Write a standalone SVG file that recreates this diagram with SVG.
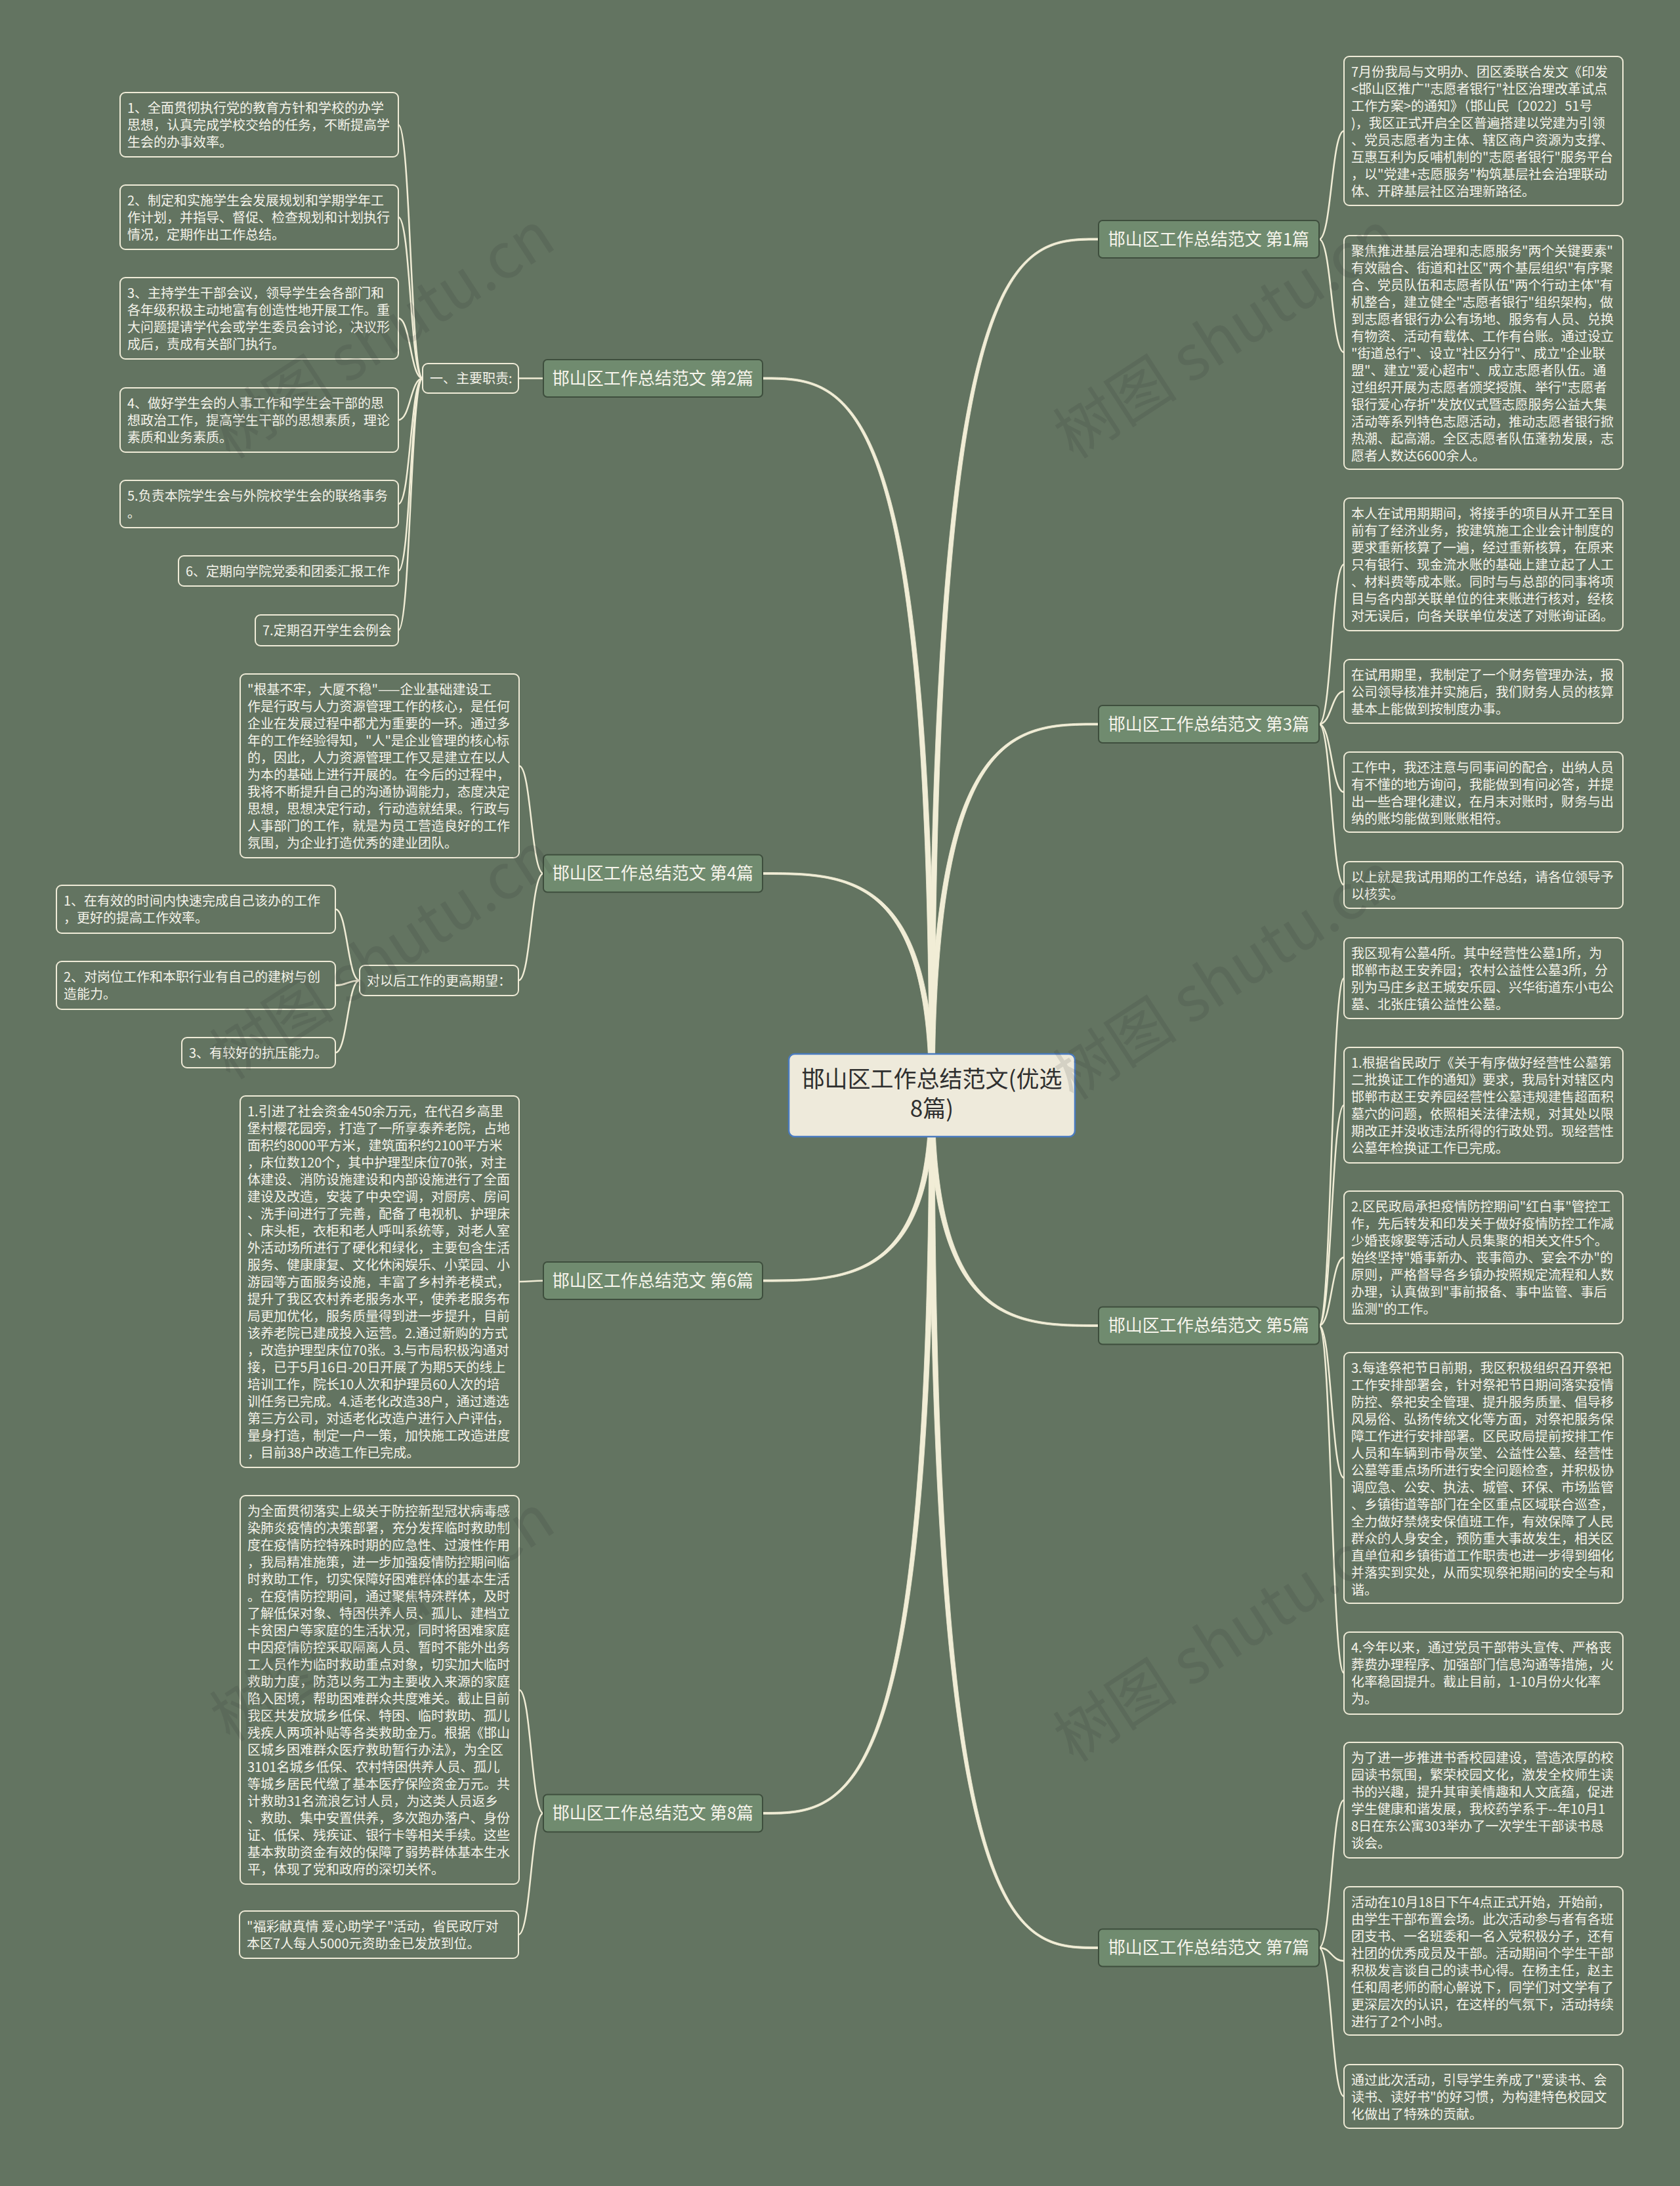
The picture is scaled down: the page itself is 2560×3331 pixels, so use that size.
<svg xmlns="http://www.w3.org/2000/svg" width="2560" height="3331" viewBox="0 0 2560 3331">
<style>
.bg{fill:#637461}
.box{fill:#637461;stroke:#EFEBD7;stroke-width:2}
.t{font-family:"Noto Sans CJK SC","Noto Sans",sans-serif;font-size:20px;fill:#F5F3EA}
.br rect{fill:#708B6F;stroke:#3E4E3D;stroke-width:2}
.br text{font-family:"Noto Sans CJK SC","Noto Sans",sans-serif;font-size:26px;fill:#F7F5EC;text-anchor:middle}
.sub{fill:none;stroke:#F1EDD6;stroke-width:2.5}
.main{fill:#F1EDD6;stroke:#F1EDD6;stroke-width:0.8}
.wm{font-family:"Noto Sans CJK SC","DejaVu Sans",sans-serif;font-size:95px;fill:#2E2E2E;opacity:0.13}
</style>
<rect class="bg" x="0" y="0" width="2560" height="3331"/>

<g id="connectors">
<path class="main" d="M1416,1669 C1416,363 1547,363 1674,363 L1674,366 C1547,366 1424,366 1424,1669 Z"/>
<path class="main" d="M1416,1669 C1416,1102 1547,1102 1674,1102 L1674,1105 C1547,1105 1424,1105 1424,1669 Z"/>
<path class="main" d="M1416,1669 C1416,2021.5 1547,2021.5 1674,2021.5 L1674,2018.5 C1547,2018.5 1424,2018.5 1424,1669 Z"/>
<path class="main" d="M1416,1669 C1416,2969.5 1547,2969.5 1674,2969.5 L1674,2966.5 C1547,2966.5 1424,2966.5 1424,1669 Z"/>
<path class="main" d="M1416,1669 C1416,578 1291,578 1162,578 L1162,575 C1291,575 1424,575 1424,1669 Z"/>
<path class="main" d="M1416,1669 C1416,1332.5 1291,1332.5 1162,1332.5 L1162,1329.5 C1291,1329.5 1424,1329.5 1424,1669 Z"/>
<path class="main" d="M1416,1669 C1416,1950 1291,1950 1162,1950 L1162,1953 C1291,1953 1424,1953 1424,1669 Z"/>
<path class="main" d="M1416,1669 C1416,2761.5 1291,2761.5 1162,2761.5 L1162,2764.5 C1291,2764.5 1424,2764.5 1424,1669 Z"/>

<path class="sub" d="M2010,364.5 C2029,364.5 2029,199.5 2048,199.5"/>
<path class="sub" d="M2010,364.5 C2029,364.5 2029,537 2048,537"/>
<path class="sub" d="M2010,1103.5 C2029,1103.5 2029,860 2048,860"/>
<path class="sub" d="M2010,1103.5 C2029,1103.5 2029,1053.5 2048,1053.5"/>
<path class="sub" d="M2010,1103.5 C2029,1103.5 2029,1207 2048,1207"/>
<path class="sub" d="M2010,1103.5 C2029,1103.5 2029,1348.5 2048,1348.5"/>
<path class="sub" d="M2010,2020 C2029,2020 2029,1490.5 2048,1490.5"/>
<path class="sub" d="M2010,2020 C2029,2020 2029,1684 2048,1684"/>
<path class="sub" d="M2010,2020 C2029,2020 2029,1916 2048,1916"/>
<path class="sub" d="M2010,2020 C2029,2020 2029,2252 2048,2252"/>
<path class="sub" d="M2010,2020 C2029,2020 2029,2549.5 2048,2549.5"/>
<path class="sub" d="M2010,2968 C2029,2968 2029,2743 2048,2743"/>
<path class="sub" d="M2010,2968 C2029,2968 2029,2988 2048,2988"/>
<path class="sub" d="M2010,2968 C2029,2968 2029,3194.5 2048,3194.5"/>

<path class="sub" d="M828,576.5 L790,576.5"/>
<path class="sub" d="M644,576.5 C625.5,576.5 625.5,190 607,190"/>
<path class="sub" d="M644,576.5 C625.5,576.5 625.5,331 607,331"/>
<path class="sub" d="M644,576.5 C625.5,576.5 625.5,485 607,485"/>
<path class="sub" d="M644,576.5 C625.5,576.5 625.5,640 607,640"/>
<path class="sub" d="M644,576.5 C625.5,576.5 625.5,768 607,768"/>
<path class="sub" d="M644,576.5 C625.5,576.5 625.5,870 607,870"/>
<path class="sub" d="M644,576.5 C625.5,576.5 625.5,960.5 607,960.5"/>

<path class="sub" d="M828,1331 C809.5,1331 809.5,1167 791,1167"/>
<path class="sub" d="M828,1331 C809,1331 809,1494 790,1494"/>
<path class="sub" d="M548,1494 C529.5,1494 529.5,1385.5 511,1385.5"/>
<path class="sub" d="M548,1494 C529.5,1494 529.5,1501.5 511,1501.5"/>
<path class="sub" d="M548,1494 C529.5,1494 529.5,1604 511,1604"/>

<path class="sub" d="M828,1951.5 C809.5,1951.5 809.5,1953 791,1953"/>
<path class="sub" d="M828,2763 C809.5,2763 809.5,2575 791,2575"/>
<path class="sub" d="M828,2763 C809,2763 809,2948 790,2948"/>
</g>

<g id="center">
<rect x="1202" y="1606" width="436" height="126" rx="9" fill="#EEEADB" stroke="#4A7BC0" stroke-width="2.5"/>
<text x="1420" y="1657" text-anchor="middle" font-family="'Noto Sans CJK SC','Noto Sans',sans-serif" font-size="35" fill="#2F2F2F"><tspan x="1420" dy="0">邯山区工作总结范文(优选</tspan><tspan x="1420" dy="45">8篇)</tspan></text>
</g>

<g id="b1" class="br"><rect x="1674" y="336" width="336" height="57" rx="6"/><text x="1842" y="373.5">邯山区工作总结范文 第1篇</text></g>
<g id="b3" class="br"><rect x="1674" y="1075" width="336" height="57" rx="6"/><text x="1842" y="1112.5">邯山区工作总结范文 第3篇</text></g>
<g id="b5" class="br"><rect x="1674" y="1991.5" width="336" height="57" rx="6"/><text x="1842" y="2029">邯山区工作总结范文 第5篇</text></g>
<g id="b7" class="br"><rect x="1674" y="2939.5" width="336" height="57" rx="6"/><text x="1842" y="2977">邯山区工作总结范文 第7篇</text></g>
<g id="b2" class="br"><rect x="828" y="548" width="334" height="57" rx="6"/><text x="995" y="585.5">邯山区工作总结范文 第2篇</text></g>
<g id="b4" class="br"><rect x="828" y="1302.5" width="334" height="57" rx="6"/><text x="995" y="1340">邯山区工作总结范文 第4篇</text></g>
<g id="b6" class="br"><rect x="828" y="1923" width="334" height="57" rx="6"/><text x="995" y="1960.5">邯山区工作总结范文 第6篇</text></g>
<g id="b8" class="br"><rect x="828" y="2734.5" width="334" height="57" rx="6"/><text x="995" y="2772">邯山区工作总结范文 第8篇</text></g>

<g id="r1a"><rect class="box" x="2048" y="86" width="425" height="227" rx="8"/><text class="t" x="2059" y="116.5"><tspan x="2059" dy="0">7月份我局与文明办、团区委联合发文《印发</tspan><tspan x="2059" dy="26">&lt;邯山区推广"志愿者银行"社区治理改革试点</tspan><tspan x="2059" dy="26">工作方案&gt;的通知》（邯山民〔2022〕51号</tspan><tspan x="2059" dy="26">)，我区正式开启全区普遍搭建以党建为引领</tspan><tspan x="2059" dy="26">、党员志愿者为主体、辖区商户资源为支撑、</tspan><tspan x="2059" dy="26">互惠互利为反哺机制的"志愿者银行"服务平台</tspan><tspan x="2059" dy="26">，以"党建+志愿服务"构筑基层社会治理联动</tspan><tspan x="2059" dy="26">体、开辟基层社区治理新路径。</tspan></text></g>
<g id="r1b"><rect class="box" x="2048" y="359" width="425" height="356" rx="8"/><text class="t" x="2059" y="389.5"><tspan x="2059" dy="0">聚焦推进基层治理和志愿服务"两个关键要素"</tspan><tspan x="2059" dy="26">有效融合、街道和社区"两个基层组织"有序聚</tspan><tspan x="2059" dy="26">合、党员队伍和志愿者队伍"两个行动主体"有</tspan><tspan x="2059" dy="26">机整合，建立健全"志愿者银行"组织架构，做</tspan><tspan x="2059" dy="26">到志愿者银行办公有场地、服务有人员、兑换</tspan><tspan x="2059" dy="26">有物资、活动有载体、工作有台账。通过设立</tspan><tspan x="2059" dy="26">"街道总行"、设立"社区分行"、成立"企业联</tspan><tspan x="2059" dy="26">盟"、建立"爱心超市"、成立志愿者队伍。通</tspan><tspan x="2059" dy="26">过组织开展为志愿者颁奖授旗、举行"志愿者</tspan><tspan x="2059" dy="26">银行爱心存折"发放仪式暨志愿服务公益大集</tspan><tspan x="2059" dy="26">活动等系列特色志愿活动，推动志愿者银行掀</tspan><tspan x="2059" dy="26">热潮、起高潮。全区志愿者队伍蓬勃发展，志</tspan><tspan x="2059" dy="26">愿者人数达6600余人。</tspan></text></g>

<g id="r3a"><rect class="box" x="2048" y="759" width="425" height="202" rx="8"/><text class="t" x="2059" y="789.5"><tspan x="2059" dy="0">本人在试用期期间，将接手的项目从开工至目</tspan><tspan x="2059" dy="26">前有了经济业务，按建筑施工企业会计制度的</tspan><tspan x="2059" dy="26">要求重新核算了一遍，经过重新核算，在原来</tspan><tspan x="2059" dy="26">只有银行、现金流水账的基础上建立起了人工</tspan><tspan x="2059" dy="26">、材料费等成本账。同时与与总部的同事将项</tspan><tspan x="2059" dy="26">目与各内部关联单位的往来账进行核对，经核</tspan><tspan x="2059" dy="26">对无误后，向各关联单位发送了对账询证函。</tspan></text></g>
<g id="r3b"><rect class="box" x="2048" y="1005" width="425" height="97" rx="8"/><text class="t" x="2059" y="1035.5"><tspan x="2059" dy="0">在试用期里，我制定了一个财务管理办法，报</tspan><tspan x="2059" dy="26">公司领导核准并实施后，我们财务人员的核算</tspan><tspan x="2059" dy="26">基本上能做到按制度办事。</tspan></text></g>
<g id="r3c"><rect class="box" x="2048" y="1146" width="425" height="122" rx="8"/><text class="t" x="2059" y="1176.5"><tspan x="2059" dy="0">工作中，我还注意与同事间的配合，出纳人员</tspan><tspan x="2059" dy="26">有不懂的地方询问，我能做到有问必答，并提</tspan><tspan x="2059" dy="26">出一些合理化建议，在月末对账时，财务与出</tspan><tspan x="2059" dy="26">纳的账均能做到账账相符。</tspan></text></g>
<g id="r3d"><rect class="box" x="2048" y="1313" width="425" height="71" rx="8"/><text class="t" x="2059" y="1343.5"><tspan x="2059" dy="0">以上就是我试用期的工作总结，请各位领导予</tspan><tspan x="2059" dy="26">以核实。</tspan></text></g>

<g id="r5a"><rect class="box" x="2048" y="1429" width="425" height="123" rx="8"/><text class="t" x="2059" y="1459.5"><tspan x="2059" dy="0">我区现有公墓4所。其中经营性公墓1所，为</tspan><tspan x="2059" dy="26">邯郸市赵王安养园；农村公益性公墓3所，分</tspan><tspan x="2059" dy="26">别为马庄乡赵王城安乐园、兴华街道东小屯公</tspan><tspan x="2059" dy="26">墓、北张庄镇公益性公墓。</tspan></text></g>
<g id="r5b"><rect class="box" x="2048" y="1596" width="425" height="176" rx="8"/><text class="t" x="2059" y="1626.5"><tspan x="2059" dy="0">1.根据省民政厅《关于有序做好经营性公墓第</tspan><tspan x="2059" dy="26">二批换证工作的通知》要求，我局针对辖区内</tspan><tspan x="2059" dy="26">邯郸市赵王安养园经营性公墓违规建售超面积</tspan><tspan x="2059" dy="26">墓穴的问题，依照相关法律法规，对其处以限</tspan><tspan x="2059" dy="26">期改正并没收违法所得的行政处罚。现经营性</tspan><tspan x="2059" dy="26">公墓年检换证工作已完成。</tspan></text></g>
<g id="r5c"><rect class="box" x="2048" y="1815" width="425" height="202" rx="8"/><text class="t" x="2059" y="1845.5"><tspan x="2059" dy="0">2.区民政局承担疫情防控期间"红白事"管控工</tspan><tspan x="2059" dy="26">作，先后转发和印发关于做好疫情防控工作减</tspan><tspan x="2059" dy="26">少婚丧嫁娶等活动人员集聚的相关文件5个。</tspan><tspan x="2059" dy="26">始终坚持"婚事新办、丧事简办、宴会不办"的</tspan><tspan x="2059" dy="26">原则，严格督导各乡镇办按照规定流程和人数</tspan><tspan x="2059" dy="26">办理，认真做到"事前报备、事中监管、事后</tspan><tspan x="2059" dy="26">监测"的工作。</tspan></text></g>
<g id="r5d"><rect class="box" x="2048" y="2061" width="425" height="382" rx="8"/><text class="t" x="2059" y="2091.5"><tspan x="2059" dy="0">3.每逢祭祀节日前期，我区积极组织召开祭祀</tspan><tspan x="2059" dy="26">工作安排部署会，针对祭祀节日期间落实疫情</tspan><tspan x="2059" dy="26">防控、祭祀安全管理、提升服务质量、倡导移</tspan><tspan x="2059" dy="26">风易俗、弘扬传统文化等方面，对祭祀服务保</tspan><tspan x="2059" dy="26">障工作进行安排部署。区民政局提前按排工作</tspan><tspan x="2059" dy="26">人员和车辆到市骨灰堂、公益性公墓、经营性</tspan><tspan x="2059" dy="26">公墓等重点场所进行安全问题检查，并积极协</tspan><tspan x="2059" dy="26">调应急、公安、执法、城管、环保、市场监管</tspan><tspan x="2059" dy="26">、乡镇街道等部门在全区重点区域联合巡查，</tspan><tspan x="2059" dy="26">全力做好禁烧安保值班工作，有效保障了人民</tspan><tspan x="2059" dy="26">群众的人身安全，预防重大事故发生，相关区</tspan><tspan x="2059" dy="26">直单位和乡镇街道工作职责也进一步得到细化</tspan><tspan x="2059" dy="26">并落实到实处，从而实现祭祀期间的安全与和</tspan><tspan x="2059" dy="26">谐。</tspan></text></g>
<g id="r5e"><rect class="box" x="2048" y="2487" width="425" height="125" rx="8"/><text class="t" x="2059" y="2517.5"><tspan x="2059" dy="0">4.今年以来，通过党员干部带头宣传、严格丧</tspan><tspan x="2059" dy="26">葬费办理程序、加强部门信息沟通等措施，火</tspan><tspan x="2059" dy="26">化率稳固提升。截止目前，1-10月份火化率</tspan><tspan x="2059" dy="26">为。</tspan></text></g>

<g id="r7a"><rect class="box" x="2048" y="2655" width="425" height="176" rx="8"/><text class="t" x="2059" y="2685.5"><tspan x="2059" dy="0">为了进一步推进书香校园建设，营造浓厚的校</tspan><tspan x="2059" dy="26">园读书氛围，繁荣校园文化，激发全校师生读</tspan><tspan x="2059" dy="26">书的兴趣，提升其审美情趣和人文底蕴，促进</tspan><tspan x="2059" dy="26">学生健康和谐发展，我校药学系于--年10月1</tspan><tspan x="2059" dy="26">8日在东公寓303举办了一次学生干部读书恳</tspan><tspan x="2059" dy="26">谈会。</tspan></text></g>
<g id="r7b"><rect class="box" x="2048" y="2875" width="425" height="226" rx="8"/><text class="t" x="2059" y="2905.5"><tspan x="2059" dy="0">活动在10月18日下午4点正式开始，开始前，</tspan><tspan x="2059" dy="26">由学生干部布置会场。此次活动参与者有各班</tspan><tspan x="2059" dy="26">团支书、一名班委和一名入党积极分子，还有</tspan><tspan x="2059" dy="26">社团的优秀成员及干部。活动期间个学生干部</tspan><tspan x="2059" dy="26">积极发言谈自己的读书心得。在杨主任，赵主</tspan><tspan x="2059" dy="26">任和周老师的耐心解说下，同学们对文学有了</tspan><tspan x="2059" dy="26">更深层次的认识，在这样的气氛下，活动持续</tspan><tspan x="2059" dy="26">进行了2个小时。</tspan></text></g>
<g id="r7c"><rect class="box" x="2048" y="3146" width="425" height="97" rx="8"/><text class="t" x="2059" y="3176.5"><tspan x="2059" dy="0">通过此次活动，引导学生养成了"爱读书、会</tspan><tspan x="2059" dy="26">读书、读好书"的好习惯，为构建特色校园文</tspan><tspan x="2059" dy="26">化做出了特殊的贡献。</tspan></text></g>

<g id="l2h"><rect class="box" x="644" y="554" width="146" height="45" rx="8"/><text class="t" x="655" y="584">一、主要职责:</text></g>
<g id="l2a"><rect class="box" x="183" y="141" width="424" height="98" rx="8"/><text class="t" x="194" y="171.5"><tspan x="194" dy="0">1、全面贯彻执行党的教育方针和学校的办学</tspan><tspan x="194" dy="26">思想，认真完成学校交给的任务，不断提高学</tspan><tspan x="194" dy="26">生会的办事效率。</tspan></text></g>
<g id="l2b"><rect class="box" x="183" y="282" width="424" height="98" rx="8"/><text class="t" x="194" y="312.5"><tspan x="194" dy="0">2、制定和实施学生会发展规划和学期学年工</tspan><tspan x="194" dy="26">作计划，并指导、督促、检查规划和计划执行</tspan><tspan x="194" dy="26">情况，定期作出工作总结。</tspan></text></g>
<g id="l2c"><rect class="box" x="183" y="423" width="424" height="124" rx="8"/><text class="t" x="194" y="453.5"><tspan x="194" dy="0">3、主持学生干部会议，领导学生会各部门和</tspan><tspan x="194" dy="26">各年级积极主动地富有创造性地开展工作。重</tspan><tspan x="194" dy="26">大问题提请学代会或学生委员会讨论，决议形</tspan><tspan x="194" dy="26">成后，责成有关部门执行。</tspan></text></g>
<g id="l2d"><rect class="box" x="183" y="591" width="424" height="98" rx="8"/><text class="t" x="194" y="621.5"><tspan x="194" dy="0">4、做好学生会的人事工作和学生会干部的思</tspan><tspan x="194" dy="26">想政治工作，提高学生干部的思想素质，理论</tspan><tspan x="194" dy="26">素质和业务素质。</tspan></text></g>
<g id="l2e"><rect class="box" x="183" y="732" width="424" height="72" rx="8"/><text class="t" x="194" y="762.5"><tspan x="194" dy="0">5.负责本院学生会与外院校学生会的联络事务</tspan><tspan x="194" dy="26">。</tspan></text></g>
<g id="l2f"><rect class="box" x="272" y="847" width="335" height="46" rx="8"/><text class="t" x="283" y="877.5">6、定期向学院党委和团委汇报工作</text></g>
<g id="l2g"><rect class="box" x="389" y="937" width="218" height="47" rx="8"/><text class="t" x="400" y="967.5">7.定期召开学生会例会</text></g>

<g id="l4a"><rect class="box" x="366" y="1027" width="425" height="280" rx="8"/><text class="t" x="377" y="1057.5"><tspan x="377" dy="0">"根基不牢，大厦不稳"——企业基础建设工</tspan><tspan x="377" dy="26">作是行政与人力资源管理工作的核心，是任何</tspan><tspan x="377" dy="26">企业在发展过程中都尤为重要的一环。通过多</tspan><tspan x="377" dy="26">年的工作经验得知，"人"是企业管理的核心标</tspan><tspan x="377" dy="26">的，因此，人力资源管理工作又是建立在以人</tspan><tspan x="377" dy="26">为本的基础上进行开展的。在今后的过程中，</tspan><tspan x="377" dy="26">我将不断提升自己的沟通协调能力，态度决定</tspan><tspan x="377" dy="26">思想，思想决定行动，行动造就结果。行政与</tspan><tspan x="377" dy="26">人事部门的工作，就是为员工营造良好的工作</tspan><tspan x="377" dy="26">氛围，为企业打造优秀的建业团队。</tspan></text></g>
<g id="l4h"><rect class="box" x="548" y="1471" width="242" height="46" rx="8"/><text class="t" x="559" y="1501.5">对以后工作的更高期望：</text></g>
<g id="l4b"><rect class="box" x="86" y="1349" width="425" height="73" rx="8"/><text class="t" x="97" y="1379.5"><tspan x="97" dy="0">1、在有效的时间内快速完成自己该办的工作</tspan><tspan x="97" dy="26">，更好的提高工作效率。</tspan></text></g>
<g id="l4c"><rect class="box" x="86" y="1465" width="425" height="73" rx="8"/><text class="t" x="97" y="1495.5"><tspan x="97" dy="0">2、对岗位工作和本职行业有自己的建树与创</tspan><tspan x="97" dy="26">造能力。</tspan></text></g>
<g id="l4d"><rect class="box" x="277" y="1581" width="234" height="46" rx="8"/><text class="t" x="288" y="1611.5">3、有较好的抗压能力。</text></g>

<g id="l6a"><rect class="box" x="366" y="1670" width="425" height="566" rx="8"/><text class="t" x="377" y="1700.5"><tspan x="377" dy="0">1.引进了社会资金450余万元，在代召乡高里</tspan><tspan x="377" dy="26">堡村樱花园旁，打造了一所享泰养老院，占地</tspan><tspan x="377" dy="26">面积约8000平方米，建筑面积约2100平方米</tspan><tspan x="377" dy="26">，床位数120个，其中护理型床位70张，对主</tspan><tspan x="377" dy="26">体建设、消防设施建设和内部设施进行了全面</tspan><tspan x="377" dy="26">建设及改造，安装了中央空调，对厨房、房间</tspan><tspan x="377" dy="26">、洗手间进行了完善，配备了电视机、护理床</tspan><tspan x="377" dy="26">、床头柜，衣柜和老人呼叫系统等，对老人室</tspan><tspan x="377" dy="26">外活动场所进行了硬化和绿化，主要包含生活</tspan><tspan x="377" dy="26">服务、健康康复、文化休闲娱乐、小菜园、小</tspan><tspan x="377" dy="26">游园等方面服务设施，丰富了乡村养老模式，</tspan><tspan x="377" dy="26">提升了我区农村养老服务水平，使养老服务布</tspan><tspan x="377" dy="26">局更加优化，服务质量得到进一步提升，目前</tspan><tspan x="377" dy="26">该养老院已建成投入运营。2.通过新购的方式</tspan><tspan x="377" dy="26">，改造护理型床位70张。3.与市局积极沟通对</tspan><tspan x="377" dy="26">接，已于5月16日-20日开展了为期5天的线上</tspan><tspan x="377" dy="26">培训工作，院长10人次和护理员60人次的培</tspan><tspan x="377" dy="26">训任务已完成。4.适老化改造38户，通过遴选</tspan><tspan x="377" dy="26">第三方公司，对适老化改造户进行入户评估，</tspan><tspan x="377" dy="26">量身打造，制定一户一策，加快施工改造进度</tspan><tspan x="377" dy="26">，目前38户改造工作已完成。</tspan></text></g>

<g id="l8a"><rect class="box" x="366" y="2279" width="425" height="592" rx="8"/><text class="t" x="377" y="2309.5"><tspan x="377" dy="0">为全面贯彻落实上级关于防控新型冠状病毒感</tspan><tspan x="377" dy="26">染肺炎疫情的决策部署，充分发挥临时救助制</tspan><tspan x="377" dy="26">度在疫情防控特殊时期的应急性、过渡性作用</tspan><tspan x="377" dy="26">，我局精准施策，进一步加强疫情防控期间临</tspan><tspan x="377" dy="26">时救助工作，切实保障好困难群体的基本生活</tspan><tspan x="377" dy="26">。在疫情防控期间，通过聚焦特殊群体，及时</tspan><tspan x="377" dy="26">了解低保对象、特困供养人员、孤儿、建档立</tspan><tspan x="377" dy="26">卡贫困户等家庭的生活状况，同时将困难家庭</tspan><tspan x="377" dy="26">中因疫情防控采取隔离人员、暂时不能外出务</tspan><tspan x="377" dy="26">工人员作为临时救助重点对象，切实加大临时</tspan><tspan x="377" dy="26">救助力度，防范以务工为主要收入来源的家庭</tspan><tspan x="377" dy="26">陷入困境，帮助困难群众共度难关。截止目前</tspan><tspan x="377" dy="26">我区共发放城乡低保、特困、临时救助、孤儿</tspan><tspan x="377" dy="26">残疾人两项补贴等各类救助金万。根据《邯山</tspan><tspan x="377" dy="26">区城乡困难群众医疗救助暂行办法》，为全区</tspan><tspan x="377" dy="26">3101名城乡低保、农村特困供养人员、孤儿</tspan><tspan x="377" dy="26">等城乡居民代缴了基本医疗保险资金万元。共</tspan><tspan x="377" dy="26">计救助31名流浪乞讨人员，为这类人员返乡</tspan><tspan x="377" dy="26">、救助、集中安置供养，多次跑办落户、身份</tspan><tspan x="377" dy="26">证、低保、残疾证、银行卡等相关手续。这些</tspan><tspan x="377" dy="26">基本救助资金有效的保障了弱势群体基本生水</tspan><tspan x="377" dy="26">平，体现了党和政府的深切关怀。</tspan></text></g>
<g id="l8b"><rect class="box" x="365" y="2912" width="425" height="72" rx="8"/><text class="t" x="376" y="2942.5"><tspan x="376" dy="0">"福彩献真情 爱心助学子"活动，省民政厅对</tspan><tspan x="376" dy="26">本区7人每人5000元资助金已发放到位。</tspan></text></g>

<g id="watermarks">
<text class="wm" transform="translate(351,701) rotate(-33)">树图 shutu.cn</text>
<text class="wm" transform="translate(351,1647) rotate(-33)">树图 shutu.cn</text>
<text class="wm" transform="translate(351,2656) rotate(-33)">树图 shutu.cn</text>
<text class="wm" transform="translate(1636,701) rotate(-33)">树图 shutu.cn</text>
<text class="wm" transform="translate(1636,1678) rotate(-33)">树图 shutu.cn</text>
<text class="wm" transform="translate(1636,2687) rotate(-33)">树图 shutu.cn</text>
</g>
</svg>
